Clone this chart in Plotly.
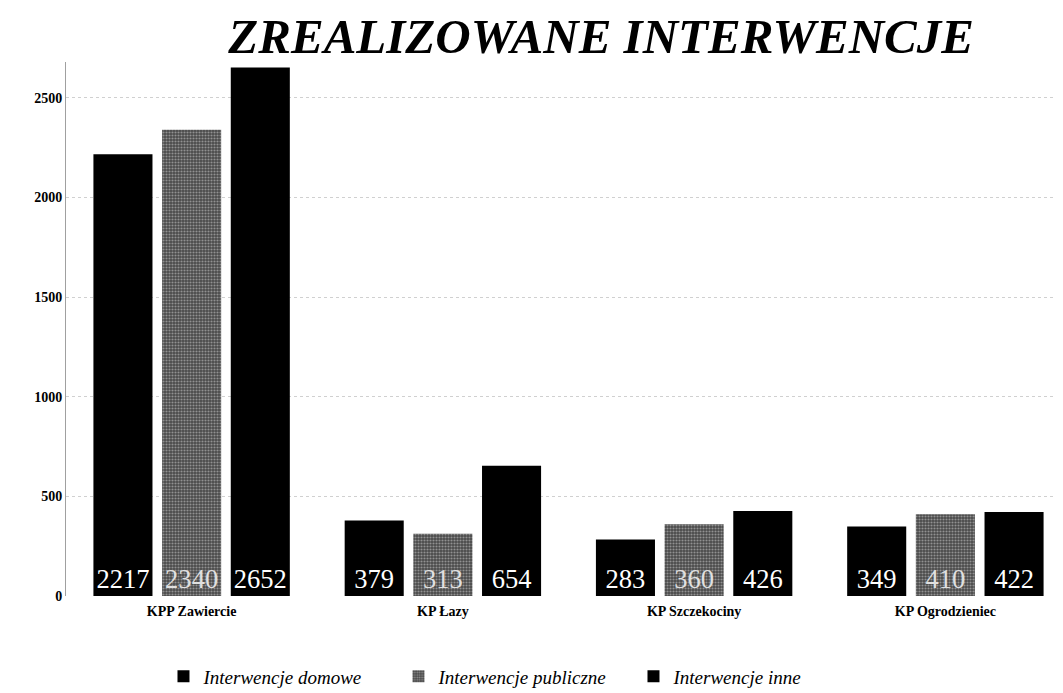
import plotly.graph_objects as go

categories = ["KPP Zawiercie", "KP Łazy", "KP Szczekociny", "KP Ogrodzieniec"]
domowe = [2217, 379, 283, 349]
publiczne = [2340, 313, 360, 410]
inne = [2652, 654, 426, 422]
series_names = ["Interwencje domowe", "Interwencje publiczne", "Interwencje inne"]
y_ticks = [0, 500, 1000, 1500, 2000, 2500]

serif = "Liberation Serif"
label_font = dict(family=serif, size=30, color="white")

fig = go.Figure()
fig.add_trace(go.Bar(
    x=categories, y=domowe, name=series_names[0],
    marker=dict(color="black", line=dict(width=0)),
    text=domowe, textposition="inside", insidetextanchor="start",
    textfont=label_font, textangle=0,
))
fig.add_trace(go.Bar(
    x=categories, y=publiczne, name=series_names[1],
    marker=dict(color="#4a4a4a", line=dict(width=0),
                pattern=dict(shape=".", fgcolor="#d8d8d8", size=3, solidity=0.4)),
    text=publiczne, textposition="inside", insidetextanchor="start",
    textfont=dict(family=serif, size=30, color="#e0e0e0"), textangle=0,
))
fig.add_trace(go.Bar(
    x=categories, y=inne, name=series_names[2],
    marker=dict(color="black", line=dict(width=0)),
    text=inne, textposition="inside", insidetextanchor="start",
    textfont=label_font, textangle=0,
))

fig.update_layout(
    width=1063, height=693,
    margin=dict(l=58, r=0, t=54, b=105),
    paper_bgcolor="white", plot_bgcolor="white",
    barmode="group", bargap=0.18, bargroupgap=0.14,
    title=dict(text="<b><i>ZREALIZOWANE INTERWENCJE</i></b>",
               font=dict(family=serif, size=49, color="black"),
               x=0.558, xanchor="center", y=0.985, yanchor="top"),
    uniformtext=dict(minsize=24, mode="show"),
    showlegend=True,
    legend=dict(orientation="h", x=0.097, xanchor="left", y=-0.115, yanchor="top",
                font=dict(family=serif, size=19, color="black", style="italic"),
                itemwidth=30, tracegroupgap=0, entrywidth=190),
    xaxis=dict(showline=False, showgrid=False, ticks="outside", ticklen=2,
               tickcolor="rgba(0,0,0,0)",
               tickfont=dict(family=serif, size=14, color="black", weight="bold")),
    yaxis=dict(range=[0, 2680], tickvals=y_ticks, ticks="",
               showgrid=True, gridcolor="#d0d0d0", griddash="dot", gridwidth=1,
               showline=True, linecolor="#a0a0a0", linewidth=1, zeroline=False,
               tickfont=dict(family=serif, size=14, color="black", weight="bold")),
)

fig.write_html("out.html")
